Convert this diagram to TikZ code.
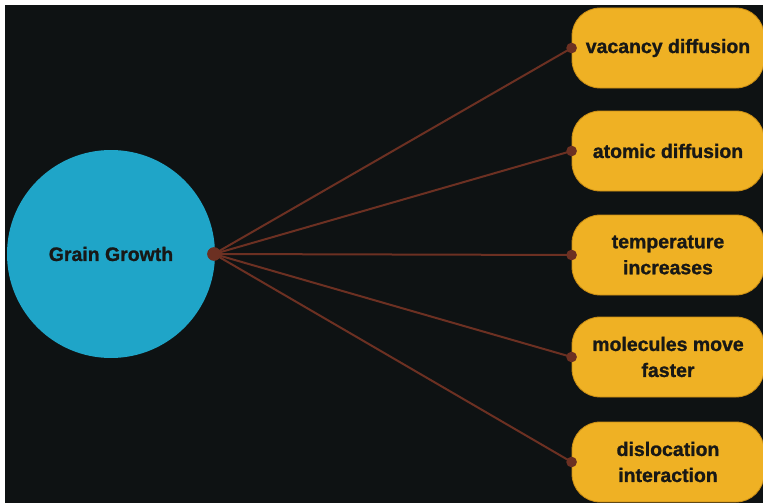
\documentclass[tikz,border=0pt]{standalone}
\usepackage{fontspec}
\setmainfont{Liberation Sans}
\newfontfamily\heavyfont[FakeBold=1.2]{Liberation Sans Bold}
\definecolor{bgdark}{RGB}{14,18,19}
\definecolor{graincyan}{RGB}{31,165,200}
\definecolor{boxgold}{RGB}{239,177,36}
\definecolor{linkbrown}{RGB}{108,48,34}
\definecolor{inkdark}{RGB}{24,24,22}
\tikzset{
  causebox/.style={draw={rgb,255:red,200;green,140;blue,20},line width=0.6pt,fill=boxgold,rounded corners=21pt,minimum width=144pt,minimum height=60pt,align=center,text=inkdark,font=\fontsize{14.6}{19.5}\heavyfont},
  linkline/.style={draw=linkbrown,line width=1.5pt},
  linkdot/.style={circle,fill=linkbrown,inner sep=0pt,minimum size=8pt}
}
\begin{document}
\begin{tikzpicture}[x=0.75pt,y=0.75pt,yscale=-1,xscale=1]
\useasboundingbox (0,0) rectangle (763,503);
\fill [white] (0,0) rectangle (763,503);
\fill [bgdark] (5,5) rectangle (763,503);

%Shape: Circle [id:grain]
\node (grain) [circle,fill=graincyan,minimum size=156pt,inner sep=0pt,text=inkdark,font=\fontsize{14.6}{19.5}\heavyfont] at (111,254) {Grain Growth};
\node (hub) [linkdot,minimum size=10pt] at (214,254) {};

% Cause Nodes
\node (vacancy) [causebox] at (668,48) {vacancy diffusion};
\node (atomic) [causebox] at (668,151) {atomic diffusion};
\node (temp) [causebox] at (668,255) {temperature\\increases};
\node (molec) [causebox] at (668,357) {molecules move\\faster};
\node (disloc) [causebox] at (668,462) {dislocation\\interaction};

%Straight Lines
\foreach \cause in {vacancy,atomic,temp,molec,disloc}{
  \draw [linkline] (hub.center) -- (\cause.west);
  \node [linkdot] at (\cause.west) {};
}
\node [linkdot,minimum size=10pt] at (hub) {};

\end{tikzpicture}
\end{document}
